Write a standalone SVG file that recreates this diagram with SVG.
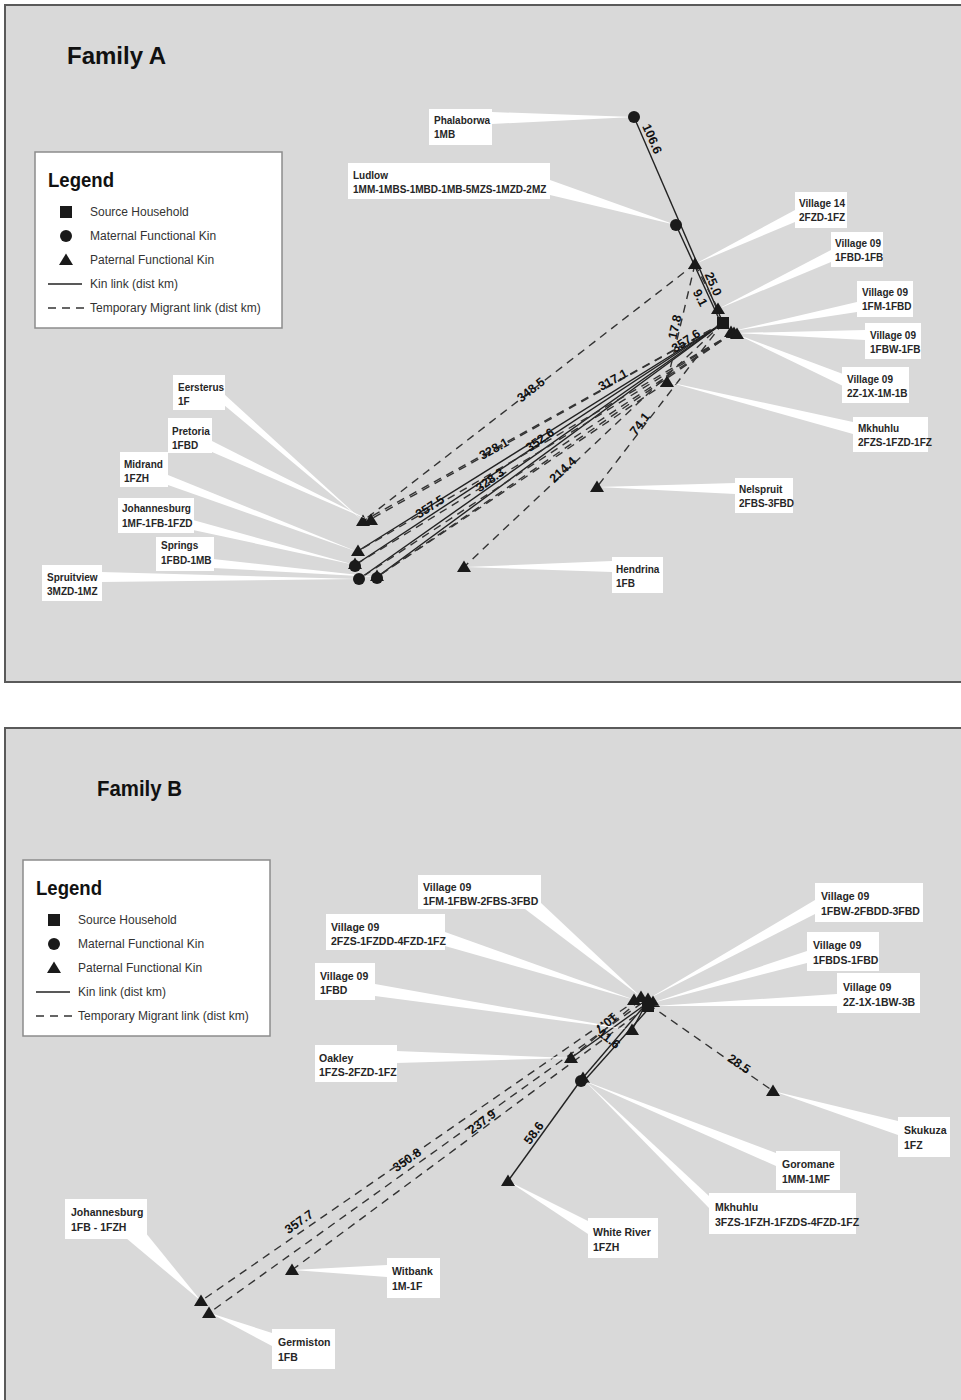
<svg xmlns="http://www.w3.org/2000/svg" xmlns:xlink="http://www.w3.org/1999/xlink" width="961" height="1400" viewBox="0 0 961 1400">
<style>
.panel{fill:#d9d9d9;stroke:#5a5a5a;stroke-width:2}
.box{fill:#ffffff}
.lead{fill:#ffffff}
.lbl{font-family:"Liberation Sans",Arial,sans-serif;font-size:10px;font-weight:bold;fill:#262626}
.lblB{font-size:10.5px}
.node{fill:#1a1a1a}
.kin{stroke:#222222;stroke-width:1.4;fill:none}
.mig{stroke:#333333;stroke-width:1.4;stroke-dasharray:8 6;fill:none}
.dist{font-family:"Liberation Sans",Arial,sans-serif;font-size:12.5px;font-weight:bold;fill:#111111;text-anchor:middle}
.title{font-family:"Liberation Sans",Arial,sans-serif;font-weight:bold;fill:#111}
.legbox{fill:#ffffff;stroke:#8c8c8c;stroke-width:1.5}
.legtxt{font-family:"Liberation Sans",Arial,sans-serif;font-size:12px;fill:#333}
</style>
<defs>
<path id="tri" d="M0,-6.5L7,5L-7,5Z"/>
<circle id="dot" r="6"/>
<rect id="sq" x="-6" y="-6" width="12" height="12"/>
</defs>
<rect width="961" height="1400" fill="#ffffff"/>
<rect class="panel" x="5" y="5" width="962" height="677"/>
<rect class="panel" x="5" y="728" width="962" height="690"/>

<text class="title" x="67" y="64" font-size="24">Family A</text>
<text class="title" x="97" y="796" font-size="22" textLength="85" lengthAdjust="spacingAndGlyphs">Family B</text>

<g id="legend-a">
<rect class="legbox" x="35" y="152" width="247" height="176"/>
<text class="title" x="48" y="187" font-size="20" textLength="66" lengthAdjust="spacingAndGlyphs">Legend</text>
<use href="#sq" x="66" y="212" class="node"/>
<text class="legtxt" x="90" y="216">Source Household</text>
<use href="#dot" x="66" y="236" class="node"/>
<text class="legtxt" x="90" y="240">Maternal Functional Kin</text>
<use href="#tri" x="66" y="260" class="node"/>
<text class="legtxt" x="90" y="264">Paternal Functional Kin</text>
<line class="kin" x1="48" y1="284" x2="82" y2="284"/>
<text class="legtxt" x="90" y="288">Kin link (dist km)</text>
<line class="mig" x1="48" y1="308" x2="84" y2="308"/>
<text class="legtxt" x="90" y="312">Temporary Migrant link (dist km)</text>
</g>

<g id="legend-b">
<rect class="legbox" x="23" y="860" width="247" height="176"/>
<text class="title" x="36" y="895" font-size="20" textLength="66" lengthAdjust="spacingAndGlyphs">Legend</text>
<use href="#sq" x="54" y="920" class="node"/>
<text class="legtxt" x="78" y="924">Source Household</text>
<use href="#dot" x="54" y="944" class="node"/>
<text class="legtxt" x="78" y="948">Maternal Functional Kin</text>
<use href="#tri" x="54" y="968" class="node"/>
<text class="legtxt" x="78" y="972">Paternal Functional Kin</text>
<line class="kin" x1="36" y1="992" x2="70" y2="992"/>
<text class="legtxt" x="78" y="996">Kin link (dist km)</text>
<line class="mig" x1="36" y1="1016" x2="72" y2="1016"/>
<text class="legtxt" x="78" y="1020">Temporary Migrant link (dist km)</text>
</g>

<g id="connectors">
<!-- Family A kin links -->
<path class="kin" d="M634,117L723,323"/>
<path class="kin" d="M676,225L720,321"/>
<path class="kin" d="M723,323L355,565"/>
<path class="kin" d="M723,323L358,551"/>
<path class="kin" d="M723,323L377,577"/>
<path class="kin" d="M723,323L359,579"/>
<!-- Family A migrant links -->
<path class="mig" d="M695,264L363,521"/>
<path class="mig" d="M723,323L363,521"/>
<path class="mig" d="M723,323L371,519"/>
<path class="mig" d="M733,333L358,551"/>
<path class="mig" d="M733,333L377,577"/>
<path class="mig" d="M733,333L359,579"/>
<path class="mig" d="M733,333L355,565"/>
<path class="mig" d="M667,382L377,577"/>
<path class="mig" d="M723,323L464,567"/>
<path class="mig" d="M723,323L597,487"/>
<path class="mig" d="M695,264L718,309"/>
<path class="mig" d="M695,264L667,382"/>
<!-- Family B kin links -->
<path class="kin" d="M646,1004L571,1058"/>
<path class="kin" d="M646,1004L581,1080"/>
<path class="kin" d="M651,1006L584,1081"/>
<path class="kin" d="M646,1004L632,1030"/>
<path class="kin" d="M581,1080L508,1181"/>
<!-- Family B migrant links -->
<path class="mig" d="M648,1004L773,1091"/>
<path class="mig" d="M638,999L201,1301"/>
<path class="mig" d="M642,1003L209,1313"/>
<path class="mig" d="M647,1007L292,1270"/>
<path class="mig" d="M640,1000L571,1058"/>
</g>

<!-- Family A nodes -->
<g id="a-phalaborwa">
<polygon class="lead" points="492,112 492,124 634,117"/>
<rect class="box" x="429" y="109" width="63" height="36"/>
<text class="lbl" x="434" y="124">Phalaborwa</text>
<text class="lbl" x="434" y="138">1MB</text>
<use href="#dot" x="634" y="117" class="node"/>
</g>
<g id="a-ludlow">
<polygon class="lead" points="550,180 550,195 676,225"/>
<rect class="box" x="348" y="163" width="202" height="36"/>
<text class="lbl" x="353" y="179">Ludlow</text>
<text class="lbl" x="353" y="193">1MM-1MBS-1MBD-1MB-5MZS-1MZD-2MZ</text>
<use href="#dot" x="676" y="225" class="node"/>
</g>
<g id="a-village14">
<polygon class="lead" points="795,210 795,222 695,264"/>
<rect class="box" x="795" y="192" width="52" height="36"/>
<text class="lbl" x="799" y="207">Village 14</text>
<text class="lbl" x="799" y="221">2FZD-1FZ</text>
<use href="#tri" x="695" y="264" class="node"/>
</g>
<g id="a-village09-1fbd">
<polygon class="lead" points="831,250 831,262 718,309"/>
<rect class="box" x="831" y="232" width="52" height="35"/>
<text class="lbl" x="835" y="247">Village 09</text>
<text class="lbl" x="835" y="261">1FBD-1FB</text>
<use href="#tri" x="718" y="309" class="node"/>
</g>
<g id="a-source">
<use href="#sq" x="723" y="323" class="node"/>
</g>
<g id="a-village09-1fm">
<polygon class="lead" points="857,302 857,312 733,331"/>
<rect class="box" x="857" y="281" width="56" height="36"/>
<text class="lbl" x="862" y="296">Village 09</text>
<text class="lbl" x="862" y="310">1FM-1FBD</text>
<use href="#tri" x="731" y="332" class="node"/>
</g>
<g id="a-village09-1fbw">
<polygon class="lead" points="865,330 865,340 735,333"/>
<rect class="box" x="865" y="323" width="56" height="36"/>
<text class="lbl" x="870" y="339">Village 09</text>
<text class="lbl" x="870" y="353">1FBW-1FB</text>
<use href="#tri" x="734" y="333" class="node"/>
</g>
<g id="a-village09-2z">
<polygon class="lead" points="843,374 843,386 736,334"/>
<rect class="box" x="842" y="367" width="67" height="36"/>
<text class="lbl" x="847" y="383">Village 09</text>
<text class="lbl" x="847" y="397">2Z-1X-1M-1B</text>
<use href="#tri" x="737" y="334" class="node"/>
</g>
<g id="a-mkhuhlu">
<polygon class="lead" points="853,422 853,434 668,382"/>
<rect class="box" x="853" y="417" width="75" height="35"/>
<text class="lbl" x="858" y="432">Mkhuhlu</text>
<text class="lbl" x="858" y="446">2FZS-1FZD-1FZ</text>
<use href="#tri" x="667" y="382" class="node"/>
</g>
<g id="a-nelspruit">
<polygon class="lead" points="735,483 735,494 598,487"/>
<rect class="box" x="735" y="478" width="58" height="35"/>
<text class="lbl" x="739" y="493">Nelspruit</text>
<text class="lbl" x="739" y="507">2FBS-3FBD</text>
<use href="#tri" x="597" y="487" class="node"/>
</g>
<g id="a-hendrina">
<polygon class="lead" points="612,561 612,572 465,567"/>
<rect class="box" x="612" y="557" width="51" height="36"/>
<text class="lbl" x="616" y="573">Hendrina</text>
<text class="lbl" x="616" y="587">1FB</text>
<use href="#tri" x="464" y="567" class="node"/>
</g>
<g id="a-eersterus">
<polygon class="lead" points="224,394 224,405 363,521"/>
<rect class="box" x="173" y="375" width="52" height="35"/>
<text class="lbl" x="178" y="391">Eersterus</text>
<text class="lbl" x="178" y="405">1F</text>
<use href="#tri" x="363" y="521" class="node"/>
</g>
<g id="a-pretoria">
<polygon class="lead" points="212,441 212,452 371,521"/>
<rect class="box" x="168" y="418" width="44" height="35"/>
<text class="lbl" x="172" y="435">Pretoria</text>
<text class="lbl" x="172" y="449">1FBD</text>
<use href="#tri" x="371" y="520" class="node"/>
</g>
<g id="a-midrand">
<polygon class="lead" points="168,475 168,485 358,552"/>
<rect class="box" x="120" y="452" width="48" height="35"/>
<text class="lbl" x="124" y="468">Midrand</text>
<text class="lbl" x="124" y="482">1FZH</text>
<use href="#tri" x="358" y="551" class="node"/>
</g>
<g id="a-johannesburg">
<polygon class="lead" points="193,520 193,530 355,565"/>
<rect class="box" x="118" y="498" width="76" height="35"/>
<text class="lbl" x="122" y="512">Johannesburg</text>
<text class="lbl" x="122" y="527">1MF-1FB-1FZD</text>
<use href="#dot" x="355" y="566" class="node"/>
<use href="#tri" x="355" y="564" class="node"/>
</g>
<g id="a-springs">
<polygon class="lead" points="213,559 213,568 377,577"/>
<rect class="box" x="156" y="537" width="58" height="34"/>
<text class="lbl" x="161" y="549">Springs</text>
<text class="lbl" x="161" y="564">1FBD-1MB</text>
<use href="#dot" x="377" y="578" class="node"/>
<use href="#tri" x="377" y="576" class="node"/>
</g>
<g id="a-spruitview">
<polygon class="lead" points="101,572 101,582 359,579"/>
<rect class="box" x="42" y="565" width="60" height="36"/>
<text class="lbl" x="47" y="581">Spruitview</text>
<text class="lbl" x="47" y="595">3MZD-1MZ</text>
<use href="#dot" x="359" y="579" class="node"/>
</g>

<!-- Family B nodes -->
<g id="b-village09-1fm">
<polygon class="lead" points="525,909 540,902 641,997"/>
<rect class="box" x="418" y="875" width="123" height="34"/>
<text class="lbl lblB" x="423" y="891">Village 09</text>
<text class="lbl lblB" x="423" y="905">1FM-1FBW-2FBS-3FBD</text>
<use href="#tri" x="641" y="997" class="node"/>
</g>
<g id="b-village09-2fzs">
<polygon class="lead" points="445,932 445,946 635,1000"/>
<rect class="box" x="326" y="914" width="119" height="36"/>
<text class="lbl lblB" x="331" y="931">Village 09</text>
<text class="lbl lblB" x="331" y="945">2FZS-1FZDD-4FZD-1FZ</text>
<use href="#tri" x="634" y="1000" class="node"/>
</g>
<g id="b-village09-1fbd">
<polygon class="lead" points="375,984 375,996 632,1030"/>
<rect class="box" x="315" y="963" width="60" height="37"/>
<text class="lbl lblB" x="320" y="980">Village 09</text>
<text class="lbl lblB" x="320" y="994">1FBD</text>
<use href="#tri" x="632" y="1030" class="node"/>
</g>
<g id="b-oakley">
<polygon class="lead" points="396,1051 396,1063 571,1058"/>
<rect class="box" x="315" y="1045" width="82" height="37"/>
<text class="lbl lblB" x="319" y="1062">Oakley</text>
<text class="lbl lblB" x="319" y="1076">1FZS-2FZD-1FZ</text>
<use href="#tri" x="571" y="1058" class="node"/>
</g>
<g id="b-village09-1fbw">
<polygon class="lead" points="815,900 815,914 648,999"/>
<rect class="box" x="815" y="883" width="108" height="39"/>
<text class="lbl lblB" x="821" y="900">Village 09</text>
<text class="lbl lblB" x="821" y="915">1FBW-2FBDD-3FBD</text>
<use href="#tri" x="648" y="999" class="node"/>
</g>
<g id="b-village09-1fbds">
<polygon class="lead" points="807,951 807,963 652,1003"/>
<rect class="box" x="807" y="932" width="72" height="39"/>
<text class="lbl lblB" x="813" y="949">Village 09</text>
<text class="lbl lblB" x="813" y="964">1FBDS-1FBD</text>
<use href="#tri" x="653" y="1002" class="node"/>
</g>
<g id="b-source">
<polygon class="lead" points="837,994 837,1006 654,1006"/>
<rect class="box" x="837" y="973" width="83" height="40"/>
<text class="lbl lblB" x="843" y="991">Village 09</text>
<text class="lbl lblB" x="843" y="1006">2Z-1X-1BW-3B</text>
<use href="#sq" x="648" y="1006" class="node"/>
</g>
<g id="b-skukuza">
<polygon class="lead" points="898,1121 898,1135 773,1091"/>
<rect class="box" x="898" y="1117" width="52" height="40"/>
<text class="lbl lblB" x="904" y="1134">Skukuza</text>
<text class="lbl lblB" x="904" y="1149">1FZ</text>
<use href="#tri" x="773" y="1091" class="node"/>
</g>
<g id="b-mkhuhlu">
<polygon class="lead" points="709,1196 709,1208 584,1080"/>
<rect class="box" x="709" y="1193" width="147" height="41"/>
<text class="lbl lblB" x="715" y="1211">Mkhuhlu</text>
<text class="lbl lblB" x="715" y="1226">3FZS-1FZH-1FZDS-4FZD-1FZ</text>
<use href="#tri" x="583" y="1078" class="node"/>
</g>
<g id="b-goromane">
<polygon class="lead" points="776,1153 776,1166 582,1080"/>
<rect class="box" x="776" y="1151" width="64" height="39"/>
<text class="lbl lblB" x="782" y="1168">Goromane</text>
<text class="lbl lblB" x="782" y="1183">1MM-1MF</text>
<use href="#dot" x="581" y="1081" class="node"/>
</g>
<g id="b-whiteriver">
<polygon class="lead" points="588,1221 588,1234 508,1181"/>
<rect class="box" x="588" y="1218" width="70" height="40"/>
<text class="lbl lblB" x="593" y="1236">White River</text>
<text class="lbl lblB" x="593" y="1251">1FZH</text>
<use href="#tri" x="508" y="1181" class="node"/>
</g>
<g id="b-johannesburg">
<polygon class="lead" points="126,1238 145,1232 201,1301"/>
<rect class="box" x="65" y="1199" width="82" height="40"/>
<text class="lbl lblB" x="71" y="1216">Johannesburg</text>
<text class="lbl lblB" x="71" y="1231">1FB - 1FZH</text>
<use href="#tri" x="201" y="1301" class="node"/>
</g>
<g id="b-witbank">
<polygon class="lead" points="387,1265 387,1277 293,1270"/>
<rect class="box" x="387" y="1258" width="53" height="40"/>
<text class="lbl lblB" x="392" y="1275">Witbank</text>
<text class="lbl lblB" x="392" y="1290">1M-1F</text>
<use href="#tri" x="292" y="1270" class="node"/>
</g>
<g id="b-germiston">
<polygon class="lead" points="272,1333 272,1346 210,1313"/>
<rect class="box" x="272" y="1329" width="63" height="40"/>
<text class="lbl lblB" x="278" y="1346">Germiston</text>
<text class="lbl lblB" x="278" y="1361">1FB</text>
<use href="#tri" x="209" y="1313" class="node"/>
</g>

<g id="edge-labels">
<text class="dist" transform="translate(652,139) rotate(66.6)" dy="4">106.6</text>
<text class="dist" transform="translate(713,284) rotate(66)" dy="4">25.0</text>
<text class="dist" transform="translate(700,298) rotate(63)" dy="4">9.1</text>
<text class="dist" transform="translate(675,327) rotate(-77)" dy="4">17.8</text>
<text class="dist" transform="translate(686,341) rotate(-34)" dy="4">357.6</text>
<text class="dist" transform="translate(613,380) rotate(-29)" dy="4">317.1</text>
<text class="dist" transform="translate(531,390) rotate(-38)" dy="4">348.5</text>
<text class="dist" transform="translate(494,449) rotate(-29)" dy="4">328.1</text>
<text class="dist" transform="translate(540,440) rotate(-35)" dy="4">352.6</text>
<text class="dist" transform="translate(490,480) rotate(-36)" dy="4">328.3</text>
<text class="dist" transform="translate(430,507) rotate(-33)" dy="4">357.5</text>
<text class="dist" transform="translate(563,470) rotate(-43)" dy="4">214.4</text>
<text class="dist" transform="translate(640,424) rotate(-52)" dy="4">74.1</text>
<text class="dist" transform="translate(606,1023) rotate(140)" dy="4">10.7</text>
<text class="dist" transform="translate(609,1039) rotate(38)" dy="4">11.6</text>
<text class="dist" transform="translate(739,1064) rotate(34)" dy="4">28.5</text>
<text class="dist" transform="translate(534,1133) rotate(-54)" dy="4">58.6</text>
<text class="dist" transform="translate(482,1122) rotate(-37)" dy="4">237.9</text>
<text class="dist" transform="translate(407,1160) rotate(-35)" dy="4">350.8</text>
<text class="dist" transform="translate(299,1222) rotate(-35)" dy="4">357.7</text>
</g>
</svg>
